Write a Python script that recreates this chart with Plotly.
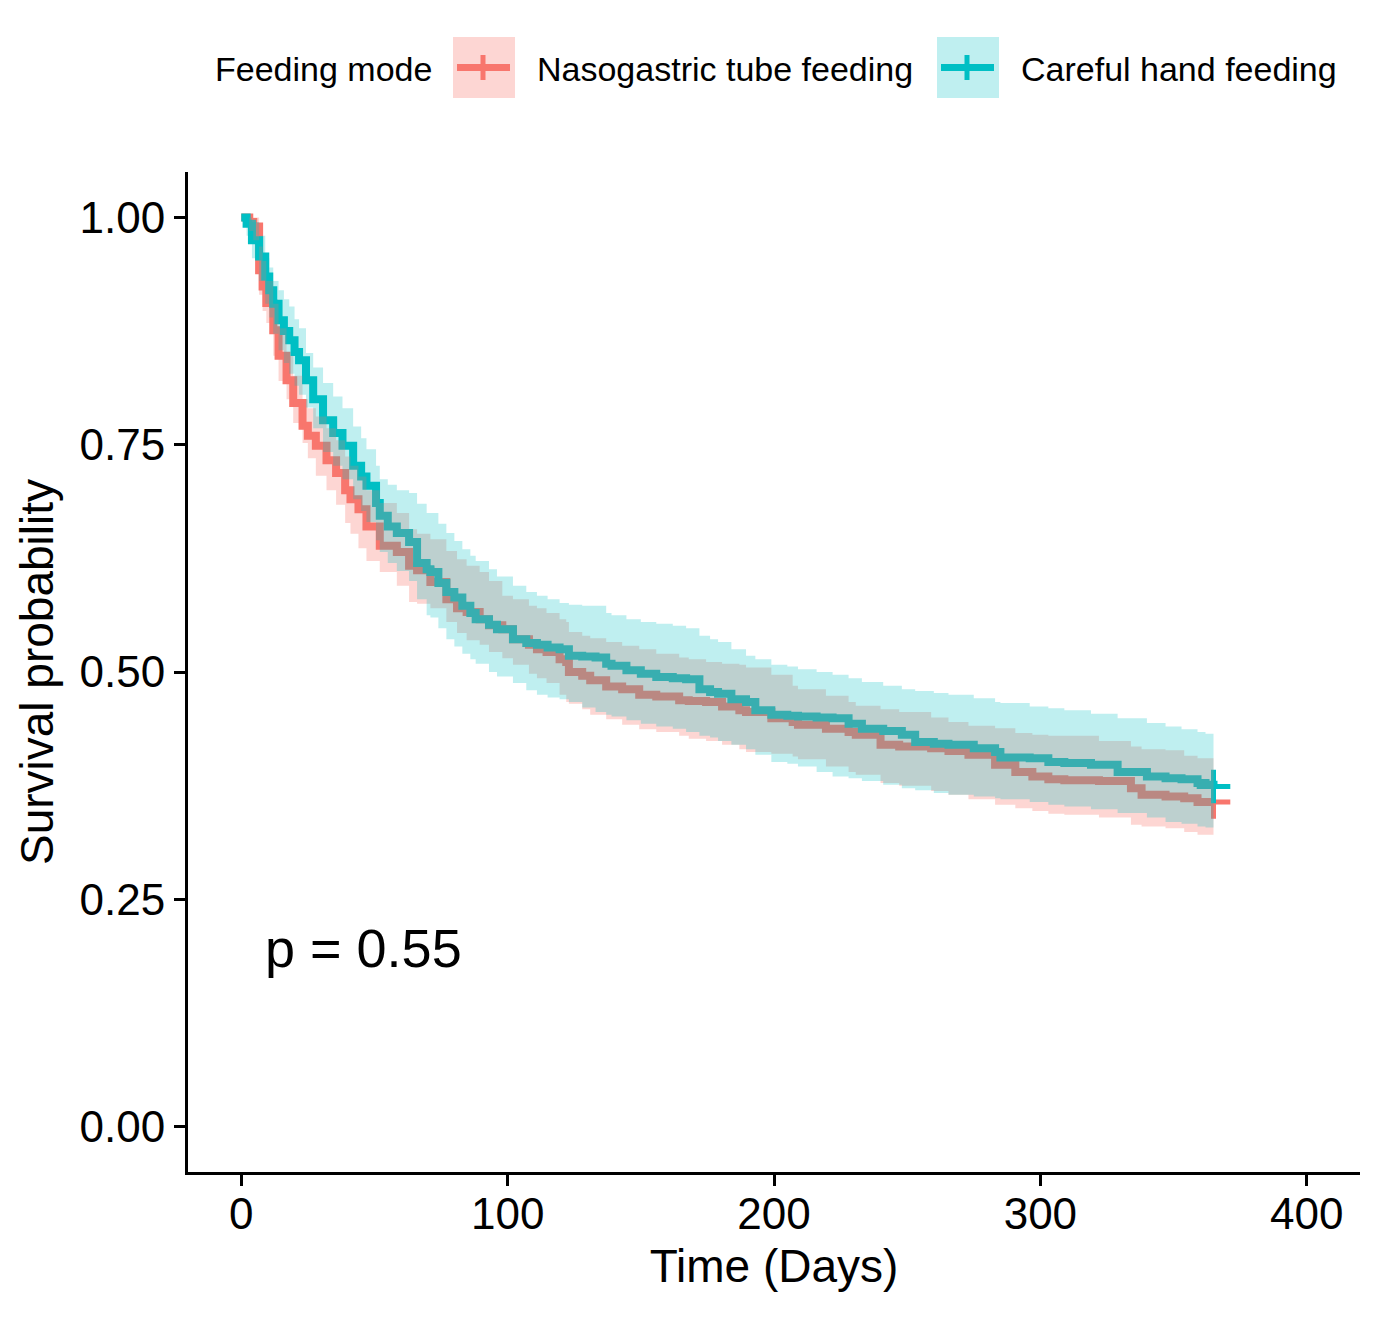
import plotly.graph_objects as go

# Kaplan-Meier estimates (days, survival, 95% CI)
groups = ['Nasogastric tube feeding', 'Careful hand feeding']
colors = ['#F8766D', '#00BFC4']
bands = ['rgba(248,118,109,0.3)', 'rgba(0,191,196,0.25)']

days_ng = [0, 3, 4.5, 6.7, 8, 9.4, 12, 14, 17, 19.5, 23, 25, 28, 32, 35.6, 39, 41, 44, 47, 52,
           58.4, 63, 66, 71, 77, 81, 84.6, 89.5, 93, 98, 102, 108, 111, 114.6, 119.5, 122, 123,
           128, 131, 137, 143, 149.4, 155.8, 164.4, 168, 174.5, 180.5, 187, 189.5, 199, 207, 209,
           219.5, 228, 230.7, 240, 247, 259, 265.5, 273, 283, 290.6, 297, 303, 309, 322, 334, 338,
           347, 354, 359, 365]
surv_ng = [1.000, 0.995, 0.990, 0.942, 0.924, 0.906, 0.876, 0.848, 0.821, 0.796, 0.771, 0.760,
           0.749, 0.733, 0.719, 0.700, 0.690, 0.679, 0.660, 0.639, 0.632, 0.617, 0.612, 0.599,
           0.580, 0.570, 0.566, 0.558, 0.5515, 0.547, 0.536, 0.530, 0.525, 0.522, 0.514, 0.511,
           0.500, 0.496, 0.491, 0.484, 0.481, 0.475, 0.473, 0.469, 0.468, 0.467, 0.462, 0.458,
           0.456, 0.449, 0.445, 0.442, 0.4375, 0.434, 0.431, 0.420, 0.418, 0.416, 0.413, 0.409,
           0.398, 0.390, 0.385, 0.382, 0.381, 0.380, 0.372, 0.365, 0.363, 0.361, 0.357, 0.357]
lower_ng = [1.000, 0.985, 0.975, 0.915, 0.897, 0.884, 0.848, 0.820, 0.800, 0.774, 0.752, 0.735,
            0.716, 0.700, 0.684, 0.664, 0.652, 0.636, 0.622, 0.610, 0.595, 0.577, 0.575, 0.570,
            0.555, 0.543, 0.535, 0.530, 0.522, 0.515, 0.508, 0.498, 0.493, 0.488, 0.475, 0.467,
            0.465, 0.459, 0.453, 0.448, 0.442, 0.437, 0.434, 0.430, 0.4265, 0.424, 0.420, 0.415,
            0.412, 0.410, 0.407, 0.404, 0.396, 0.390, 0.387, 0.378, 0.375, 0.369, 0.365, 0.360,
            0.354, 0.350, 0.347, 0.344, 0.343, 0.340, 0.332, 0.330, 0.328, 0.324, 0.321, 0.319]
upper_ng = [1.000, 1.000, 1.000, 0.968, 0.952, 0.930, 0.905, 0.878, 0.848, 0.826, 0.800, 0.790,
            0.781, 0.768, 0.755, 0.737, 0.727, 0.715, 0.700, 0.686, 0.675, 0.657, 0.652, 0.646,
            0.633, 0.624, 0.617, 0.610, 0.600, 0.584, 0.580, 0.573, 0.570, 0.565, 0.558, 0.555,
            0.544, 0.540, 0.537, 0.533, 0.529, 0.525, 0.520, 0.516, 0.514, 0.511, 0.509, 0.508,
            0.505, 0.497, 0.485, 0.481, 0.474, 0.467, 0.463, 0.459, 0.456, 0.450, 0.445, 0.441,
            0.438, 0.433, 0.431, 0.430, 0.430, 0.424, 0.418, 0.415, 0.414, 0.408, 0.405, 0.405]

days_chf = [0, 2, 4, 6.7, 9, 10.5, 12, 14, 16, 18, 20, 21.7, 24.3, 27, 30.7, 34.5, 38, 42, 45, 47,
            50.6, 52, 55, 58.4, 63, 66, 69.6, 71, 74, 77, 80, 83, 86, 88, 93, 96, 102, 107, 111,
            115, 119.5, 123, 128, 133, 137, 139, 144.6, 150, 155.8, 162, 167, 172, 176, 179, 184,
            189.5, 193, 199, 205, 209, 216, 222, 228, 233, 241, 248, 253, 260, 265.5, 275, 283,
            285, 296, 303, 309, 319, 329, 340, 347, 353, 359, 362, 365]
surv_chf = [1.000, 0.993, 0.975, 0.957, 0.935, 0.920, 0.905, 0.887, 0.875, 0.865, 0.852, 0.843,
            0.821, 0.800, 0.777, 0.763, 0.749, 0.727, 0.715, 0.705, 0.686, 0.672, 0.660, 0.653,
            0.643, 0.620, 0.613, 0.610, 0.598, 0.588, 0.582, 0.573, 0.565, 0.558, 0.552, 0.547,
            0.536, 0.532, 0.530, 0.527, 0.525, 0.518, 0.517, 0.516, 0.509, 0.507, 0.502, 0.498,
            0.4945, 0.493, 0.492, 0.481, 0.478, 0.476, 0.470, 0.467, 0.458, 0.453, 0.452, 0.451,
            0.450, 0.449, 0.443, 0.4375, 0.435, 0.431, 0.423, 0.421, 0.420, 0.416, 0.412, 0.406,
            0.405, 0.401, 0.400, 0.398, 0.390, 0.385, 0.383, 0.382, 0.378, 0.376, 0.374]
lower_chf = [1.000, 0.980, 0.955, 0.930, 0.905, 0.890, 0.872, 0.854, 0.840, 0.828, 0.815, 0.805,
             0.791, 0.768, 0.742, 0.727, 0.712, 0.690, 0.677, 0.665, 0.645, 0.632, 0.620, 0.611,
             0.600, 0.580, 0.5625, 0.560, 0.548, 0.536, 0.528, 0.520, 0.514, 0.509, 0.500, 0.495,
             0.488, 0.480, 0.475, 0.472, 0.470, 0.467, 0.461, 0.456, 0.453, 0.451, 0.447, 0.443,
             0.440, 0.4375, 0.434, 0.430, 0.428, 0.424, 0.420, 0.415, 0.409, 0.401, 0.399, 0.396,
             0.390, 0.385, 0.383, 0.380, 0.376, 0.372, 0.370, 0.367, 0.365, 0.363, 0.361, 0.360,
             0.357, 0.354, 0.352, 0.349, 0.345, 0.340, 0.335, 0.333, 0.330, 0.329, 0.328]
upper_chf = [1.000, 1.000, 0.995, 0.980, 0.955, 0.945, 0.930, 0.920, 0.910, 0.902, 0.888, 0.878,
             0.851, 0.835, 0.818, 0.803, 0.790, 0.770, 0.757, 0.745, 0.727, 0.712, 0.706, 0.700,
             0.697, 0.685, 0.675, 0.675, 0.663, 0.653, 0.644, 0.635, 0.628, 0.622, 0.613, 0.605,
             0.595, 0.588, 0.584, 0.580, 0.576, 0.574, 0.573, 0.573, 0.565, 0.5625, 0.558, 0.555,
             0.553, 0.551, 0.548, 0.540, 0.536, 0.533, 0.525, 0.518, 0.514, 0.508, 0.506, 0.503,
             0.500, 0.497, 0.493, 0.489, 0.485, 0.481, 0.479, 0.477, 0.475, 0.471, 0.467, 0.466,
             0.462, 0.460, 0.458, 0.454, 0.449, 0.444, 0.440, 0.437, 0.434, 0.432, 0.431]

pval_text = 'p = 0.55'
x_ticks = [0, 100, 200, 300, 400]
y_ticks = [0, 0.25, 0.5, 0.75, 1.0]

data = [
    (days_ng, surv_ng, lower_ng, upper_ng),
    (days_chf, surv_chf, lower_chf, upper_chf),
]

FONT = 'Liberation Sans, Arial, sans-serif'

fig = go.Figure()

# survival steps first, confidence bands drawn over them (as in survminer)
for (t, s, lo, up), name, col in zip(data, groups, colors):
    fig.add_trace(go.Scatter(x=t, y=s, mode='lines', name=name, line_shape='hv',
                             line=dict(color=col, width=8), showlegend=False))
    # censor mark at end of follow-up
    fig.add_trace(go.Scatter(x=t[-1:], y=s[-1:], mode='markers', showlegend=False,
                             marker=dict(symbol='cross-thin', size=24,
                                         line=dict(color=col, width=5))))

for (t, s, lo, up), col, bcol in zip(data, colors, bands):
    fig.add_trace(go.Scatter(x=t, y=lo, mode='lines', line_shape='hv',
                             line=dict(width=0, color=bcol), showlegend=False, hoverinfo='skip'))
    fig.add_trace(go.Scatter(x=t, y=up, mode='lines', line_shape='hv', fill='tonexty',
                             fillcolor=bcol, line=dict(width=0, color=bcol),
                             showlegend=False, hoverinfo='skip'))

fig.add_annotation(x=8, y=0.196, xref='x', yref='y', text=pval_text, showarrow=False,
                   xanchor='left', yanchor='middle', font=dict(size=54, color='black', family=FONT))

# page has an 8px body margin, so the figure is a bit smaller than the window
OFF = 8
W, H = 1384, 1301
L, R, T, B = 180, 32, 164, 137


def px(x):
    return (x - OFF - L) / (W - L - R)


def py(y):
    return (H - B - (y - OFF)) / (H - T - B)


# legend drawn by hand (ggplot style keys on top)
fig.add_annotation(x=px(213), y=py(69), xref='paper', yref='paper', text='Feeding mode',
                   showarrow=False, xanchor='left', yanchor='middle',
                   font=dict(size=34, color='black', family=FONT))
for k0, name, col, bcol in zip([453, 937], groups, colors, bands):
    fig.add_shape(type='rect', xref='paper', yref='paper', x0=px(k0), x1=px(k0 + 62),
                  y0=py(37), y1=py(98), fillcolor=bcol, line_width=0, layer='above')
    fig.add_shape(type='line', xref='paper', yref='paper', x0=px(k0 + 4), x1=px(k0 + 57),
                  y0=py(67.5), y1=py(67.5), line=dict(color=col, width=7), layer='above')
    fig.add_shape(type='line', xref='paper', yref='paper', x0=px(k0 + 30), x1=px(k0 + 30),
                  y0=py(55), y1=py(80), line=dict(color=col, width=5), layer='above')
    fig.add_annotation(x=px(k0 + 82), y=py(69), xref='paper', yref='paper', text=name,
                       showarrow=False, xanchor='left', yanchor='middle',
                       font=dict(size=34, color='black', family=FONT))

fig.update_xaxes(range=[-20, 420], tickvals=x_ticks, ticks='outside', ticklen=11, tickwidth=3,
                 tickcolor='black', showline=True, linewidth=3, linecolor='black',
                 showgrid=False, zeroline=False, automargin=False, ticklabelstandoff=-10,
                 tickfont=dict(size=44, color='black', family=FONT),
                 title=dict(text='Time (Days)', font=dict(size=46, color='black', family=FONT),
                            standoff=14))
fig.update_yaxes(range=[-0.05, 1.05], tickvals=y_ticks, tickformat='.2f', ticks='outside',
                 ticklen=11, tickwidth=3, tickcolor='black', showline=True, linewidth=3,
                 linecolor='black', showgrid=False, zeroline=False, automargin=False,
                 tickfont=dict(size=44, color='black', family=FONT),
                 title=dict(text='Survival probability',
                            font=dict(size=46, color='black', family=FONT), standoff=12))

fig.update_layout(width=W, height=H, template='none', plot_bgcolor='white', paper_bgcolor='white',
                  margin=dict(l=L, r=R, t=T, b=B), showlegend=False,
                  font=dict(family=FONT, color='black'))

fig.write_html('out.html')
